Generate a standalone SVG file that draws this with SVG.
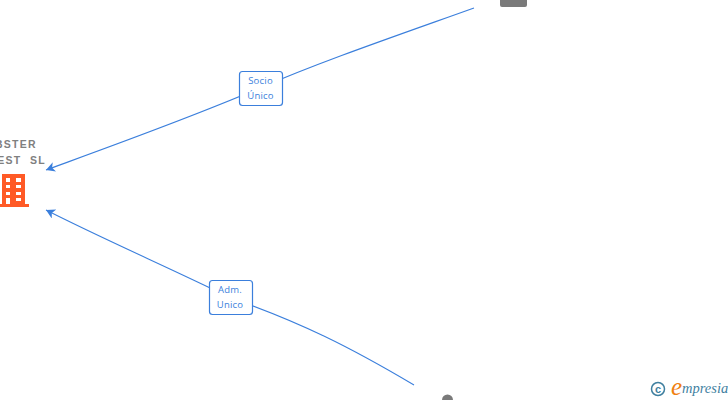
<svg xmlns="http://www.w3.org/2000/svg" width="728" height="400" viewBox="0 0 728 400">
<style>
.c{fill:none;stroke:#3b7fdc;stroke-width:1.1}
.b{fill:#fff;stroke:#3b7fdc;stroke-width:1.2}
.l{font:9.5px "Open Sans","Liberation Sans",Arial,sans-serif;fill:#3b7fdc;text-anchor:middle;letter-spacing:.2px}
.n{font:bold 10.5px "Liberation Sans",Arial,sans-serif;fill:#808080;letter-spacing:1.3px;text-anchor:end}
</style>
<defs>
<marker id="a" markerWidth="11" markerHeight="12" refX="9" refY="5" orient="auto" markerUnits="userSpaceOnUse"><path d="M9 5L0 0L2.500 5L0 10Z" fill="#3b7fdc"/></marker>
</defs>
<rect width="728" height="400" fill="#fff"/>
<g id="connectors">
<path class="c" marker-end="url(#a)" d="M474 8C390 38 320 62 260 88C190 118 120 143 46 170"/>
<path class="c" marker-end="url(#a)" d="M414 385C350 347 300 322 231 298C170 268 105 240 46 210"/>
</g>
<g id="node-company">
<text class="n" x="37" y="148">BSTER</text>
<text class="n" x="46" y="164" xml:space="preserve">EST  SL</text>
<path fill="#ff5a26" fill-rule="evenodd" d="M2 174H25V204H29V207H0V204H2ZM6 178V182H10V178ZM16 178V182H21V178ZM6 185V188H10V185ZM16 185V188H21V185ZM6 192V195H10V192ZM16 192V195H21V192ZM6 198V204H10V198ZM16 198V201H21V198Z"/>
</g>
<g id="node-top"><rect x="500" y="-6" width="27" height="13" rx="2" fill="#7a7a7a"/></g>
<g id="node-bottom"><circle cx="447.500" cy="400" r="5.500" fill="#7a7a7a"/></g>
<g id="label-socio">
<rect class="b" x="239.500" y="71.500" width="43" height="34" rx="3"/>
<text class="l" x="260.500" y="84">Socio</text><text class="l" x="260.500" y="99">Único</text>
</g>
<g id="label-adm">
<rect class="b" x="209.500" y="280.500" width="43" height="34" rx="3"/>
<text class="l" x="230" y="293">Adm.</text><text class="l" x="230" y="308">Unico</text>
</g>
<g id="logo">
<circle cx="658" cy="389" r="6.500" fill="none" stroke="#3f7f9f" stroke-width="1.500"/>
<text x="658" y="393" font-family="Liberation Sans,sans-serif" font-size="11" font-weight="bold" fill="#3f7f9f" text-anchor="middle">c</text>
<text x="671" y="395" font-family="Liberation Serif,serif" font-size="25" font-style="italic" fill="#f08010">e</text>
<text x="682" y="393" font-family="Liberation Serif,serif" font-size="14.500" font-style="italic" fill="#3f7f9f">mpresia</text>
</g>
</svg>
